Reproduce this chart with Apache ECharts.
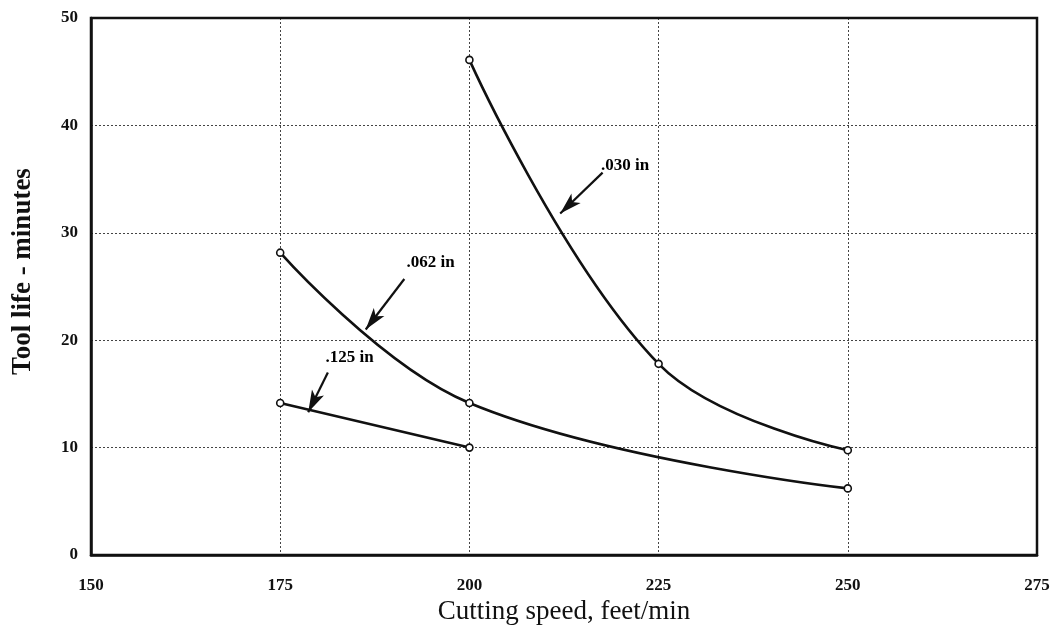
<!DOCTYPE html>
<html>
<head>
<meta charset="utf-8">
<script src="https://cdn.jsdelivr.net/npm/echarts@6/dist/echarts.min.js"></script>
<style>
  html, body { margin: 0; padding: 0; background: #fff; }
  #chart { width: 1060px; height: 631px; }
</style>
</head>
<body>
<div id="chart"></div>
<script>
// Tool life vs cutting speed for three depths of cut
const speedTicks = [150, 175, 200, 225, 250, 275];
const lifeTicks = [0, 10, 20, 30, 40, 50];

const speed030 = [200, 225, 250];
const life030 = [46.1, 17.8, 9.75];

const speed062 = [175, 200, 250];
const life062 = [28.15, 14.15, 6.2];

const speed125 = [175, 200];
const life125 = [14.15, 10.0];

// Callouts: label text, label anchor, arrow tail and arrow tip (data units)
const calloutNames = ['.030 in', '.062 in', '.125 in'];
const calloutTails = [[217.6, 35.6], [191.4, 25.7], [181.3, 17.0]];
const calloutTips = [[212.0, 31.8], [186.3, 21.0], [178.7, 13.3]];
const calloutLabels = [[217.4, 36.3], [191.7, 27.2], [181.0, 18.4]];

const serif = '"Liberation Serif", "DejaVu Serif", serif';

function pairs(xs, ys) { return xs.map((x, i) => [x, ys[i]]); }

function curve(name, xs, ys, smooth) {
  return {
    name: name,
    type: 'line',
    data: pairs(xs, ys),
    smooth: smooth,
    symbol: 'circle',
    symbolSize: 7,
    itemStyle: { color: '#fff', borderColor: '#111', borderWidth: 1.6 },
    lineStyle: { color: '#111', width: 2.6 },
    z: 3
  };
}

const chart = echarts.init(document.getElementById('chart'));

const arrowLines = calloutTails.map((t, i) => [
  { coord: t, symbol: 'none' },
  { coord: calloutTips[i], symbol: 'arrow', symbolSize: [10, 22] }
]);

const labelSeries = {
  type: 'scatter',
  data: calloutLabels.map((p, i) => ({ value: p, name: calloutNames[i] })),
  symbolSize: 0,
  silent: true,
  itemStyle: { opacity: 1 },
  label: {
    show: true,
    position: 'right',
    distance: 0,
    formatter: p => p.name,
    color: '#000',
    opacity: 1,
    fontFamily: serif,
    fontSize: 17,
    fontWeight: 'bold'
  },
  markLine: {
    silent: true,
    animation: false,
    lineStyle: { color: '#111', width: 2.2, type: 'solid', opacity: 1 },
    label: { show: false },
    data: arrowLines
  },
  z: 5
};

chart.setOption({
  animation: false,
  backgroundColor: '#fff',
  grid: { left: 91, right: 23, top: 18, bottom: 76, containLabel: false },
  xAxis: {
    type: 'value',
    min: speedTicks[0],
    max: speedTicks[speedTicks.length - 1],
    interval: 25,
    name: 'Cutting speed, feet/min',
    nameLocation: 'middle',
    nameGap: 42,
    nameTextStyle: { fontFamily: serif, fontSize: 27, color: '#111' },
    axisLine: { show: true, onZero: false, lineStyle: { color: '#111', width: 2.5 } },
    axisTick: { show: false },
    axisLabel: { margin: 22, fontFamily: serif, fontSize: 17, fontWeight: 'bold', color: '#111' },
    splitLine: { show: true, lineStyle: { color: '#444', width: 1, type: [2, 2] } }
  },
  yAxis: {
    type: 'value',
    min: lifeTicks[0],
    max: lifeTicks[lifeTicks.length - 1],
    interval: 10,
    name: 'Tool life - minutes',
    nameLocation: 'middle',
    nameGap: 54,
    nameTextStyle: { fontFamily: serif, fontSize: 27, fontWeight: 'bold', color: '#111', padding: [0, 0, 0, 30] },
    axisLine: { show: true, onZero: false, lineStyle: { color: '#111', width: 2.5 } },
    axisTick: { show: false },
    axisLabel: { margin: 13, fontFamily: serif, fontSize: 17, fontWeight: 'bold', color: '#111' },
    splitLine: { show: true, lineStyle: { color: '#444', width: 1, type: [2, 2] } }
  },
  graphic: [{
    type: 'rect',
    shape: { x: 91, y: 18, width: 946, height: 537 },
    style: { fill: 'none', stroke: '#111', lineWidth: 2.5 },
    silent: true,
    z: 10
  }],
  series: [
    curve('.030 in', speed030, life030, 0.4),
    curve('.062 in', speed062, life062, 0.4),
    curve('.125 in', speed125, life125, false),
    labelSeries
  ]
});
</script>
</body>
</html>
